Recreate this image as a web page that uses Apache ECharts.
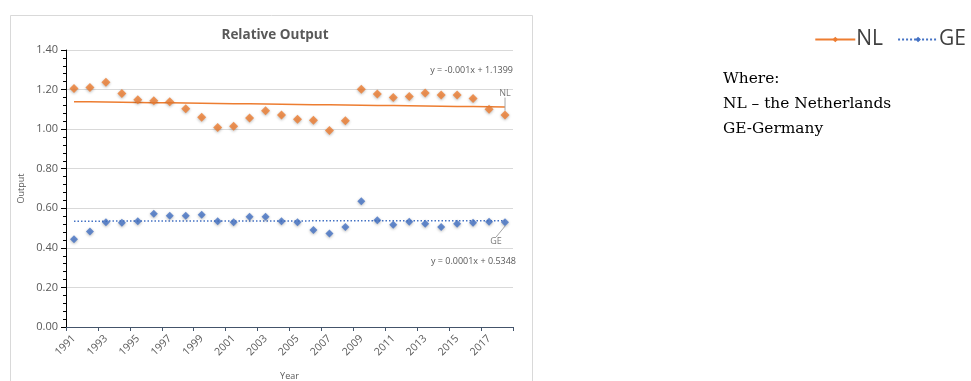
<!DOCTYPE html>
<html>
<head>
<meta charset="utf-8">
<script src="https://cdn.jsdelivr.net/npm/echarts@6/dist/echarts.min.js"></script>
<style>
  html, body { margin: 0; padding: 0; background: #fff; }
  #chart { width: 971px; height: 381px; }
</style>
</head>
<body>
<div id="chart"></div>
<script>
// Years on the category axis
const years = ['1991','1992','1993','1994','1995','1996','1997','1998','1999','2000',
  '2001','2002','2003','2004','2005','2006','2007','2008','2009','2010',
  '2011','2012','2013','2014','2015','2016','2017','2018'];

// Relative output, the Netherlands
const nlValues = [1.205, 1.21, 1.237, 1.18, 1.148, 1.143, 1.138, 1.103, 1.06, 1.008,
  1.015, 1.056, 1.093, 1.071, 1.05, 1.045, 0.993, 1.042, 1.202, 1.177,
  1.16, 1.165, 1.183, 1.172, 1.172, 1.155, 1.10, 1.071];

// Relative output, Germany
const geValues = [0.443, 0.483, 0.53, 0.527, 0.535, 0.572, 0.562, 0.562, 0.567, 0.535,
  0.53, 0.557, 0.557, 0.535, 0.53, 0.49, 0.473, 0.505, 0.635, 0.54,
  0.517, 0.532, 0.522, 0.505, 0.522, 0.527, 0.532, 0.53];

// Linear trend coefficients [slope, intercept], x = 1..n
const nlTrend = [-0.001, 1.1399];
const geTrend = [0.0001, 0.5348];

const yTicks = [0, 0.2, 0.4, 0.6, 0.8, 1.0, 1.2, 1.4];

const trendData = (c) => years.map((_, i) => +(c[0] * (i + 1) + c[1]).toFixed(5));
const eqText = (c, d) => 'y = ' + c[0].toFixed(d) + 'x + ' + c[1].toFixed(4);

const ORANGE = '#ED7D31';
const BLUE = '#4472C4';
const TXT = '#595959';
const FONT = '"Open Sans", "Noto Sans", sans-serif';

const chart = echarts.init(document.getElementById('chart'), null, { renderer: 'canvas' });

const lastIdx = years.length - 1;
const onlyLast = (label) => (params) => params.dataIndex === lastIdx ? label : {};

chart.setOption({
  animation: false,
  backgroundColor: '#fff',
  title: {
    text: 'Relative Output',
    left: 270, top: 23, textAlign: 'center',
    textStyle: { fontFamily: FONT, fontSize: 13.5, fontWeight: 'bold', color: TXT }
  },
  legend: {
    right: 0, top: 24,
    itemWidth: 40, itemHeight: 7, itemGap: 14,
    textStyle: { fontFamily: FONT, fontSize: 21, color: '#404040', padding: [0, 0, 0, -4] },
    data: [
      { name: 'NL', lineStyle: { width: 2, color: ORANGE, type: 'solid' }, itemStyle: { color: ORANGE } },
      { name: 'GE', lineStyle: { width: 2, color: BLUE, type: [2, 2] }, itemStyle: { color: BLUE } }
    ]
  },
  grid: { left: 66, right: 458, top: 50, bottom: 54, outerBoundsMode: 'none', containLabel: false },
  xAxis: {
    type: 'category',
    data: years,
    boundaryGap: true,
    name: 'Year', nameLocation: 'middle', nameGap: 45,
    nameTextStyle: { fontFamily: FONT, fontSize: 9, color: TXT },
    axisLine: { lineStyle: { color: '#44546A', width: 1 } },
    axisTick: { show: true, length: 4, lineStyle: { color: '#44546A' } },
    axisLabel: { interval: 1, rotate: 45, fontFamily: FONT, fontSize: 10.5, color: TXT, margin: 10 }
  },
  yAxis: {
    type: 'value',
    min: 0, max: 1.4, interval: 0.2,
    name: 'Output', nameLocation: 'middle', nameGap: 40, nameRotate: 90,
    nameTextStyle: { fontFamily: FONT, fontSize: 9, color: TXT },
    axisLine: { show: true, lineStyle: { color: '#000', width: 1 } },
    axisTick: { show: true, length: 5, lineStyle: { color: '#000' } },
    minorTick: { show: true, splitNumber: 5, length: 3, lineStyle: { color: '#000' } },
    splitLine: { lineStyle: { color: '#D9D9D9', width: 1 } },
    axisLabel: {
      fontFamily: FONT, fontSize: 11, color: TXT, margin: 8,
      formatter: (v) => yTicks.some(t => Math.abs(t - v) < 1e-9) ? v.toFixed(2) : ''
    }
  },
  series: [
    {
      name: 'NL', type: 'line', data: trendData(nlTrend),
      symbol: 'diamond', symbolSize: 9, showSymbol: false, silent: true,
      lineStyle: { color: ORANGE, width: 1.5 }, itemStyle: { color: ORANGE }, z: 2
    },
    {
      name: 'GE', type: 'line', data: trendData(geTrend),
      symbol: 'diamond', symbolSize: 9, showSymbol: false, silent: true,
      lineStyle: { color: BLUE, width: 1.5, type: [1.5, 2] }, itemStyle: { color: BLUE }, z: 2
    },
    {
      name: 'NL points', type: 'scatter', symbol: 'diamond', symbolSize: 9,
      itemStyle: { color: ORANGE, shadowColor: 'rgba(0,0,0,0.35)', shadowBlur: 3, shadowOffsetY: 1 },
      data: nlValues.map((v, i) => i === lastIdx ? {
        value: v,
        label: { show: true, formatter: 'NL', position: 'top', fontFamily: FONT, fontSize: 9, color: TXT }
      } : v),
      labelLayout: onlyLast({ dy: -8 }),
      labelLine: { show: true, lineStyle: { color: '#A6A6A6', width: 1 } },
      z: 3
    },
    {
      name: 'GE points', type: 'scatter', symbol: 'diamond', symbolSize: 8,
      itemStyle: { color: BLUE, shadowColor: 'rgba(0,0,0,0.35)', shadowBlur: 3, shadowOffsetY: 1 },
      data: geValues.map((v, i) => i === lastIdx ? {
        value: v,
        label: { show: true, formatter: 'GE', position: 'bottom', fontFamily: FONT, fontSize: 9, color: TXT }
      } : v),
      labelLayout: onlyLast({ dx: -9, dy: 6 }),
      labelLine: { show: true, lineStyle: { color: '#A6A6A6', width: 1 } },
      z: 3
    }
  ],
  graphic: [
    {
      type: 'rect', left: 8, top: 13, silent: true, z: -1,
      shape: { width: 522, height: 380 },
      style: { fill: 'none', stroke: '#D9D9D9', lineWidth: 1 }
    },
    {
      type: 'text', right: 458, top: 66, z: 5,
      style: { text: eqText(nlTrend, 3), fontFamily: FONT, fontSize: 9, fill: TXT, textAlign: 'right' }
    },
    {
      type: 'text', right: 455, top: 257, z: 5,
      style: { text: eqText(geTrend, 4), fontFamily: FONT, fontSize: 9, fill: TXT, textAlign: 'right' }
    },
    {
      type: 'text', left: 723, top: 66, z: 5,
      style: {
        text: 'Where:\nNL – the Netherlands\nGE-Germany',
        fontFamily: '"DejaVu Serif", "Liberation Serif", serif', fontSize: 15.4, lineHeight: 25, fill: '#000'
      }
    }
  ]
});
</script>
</body>
</html>
